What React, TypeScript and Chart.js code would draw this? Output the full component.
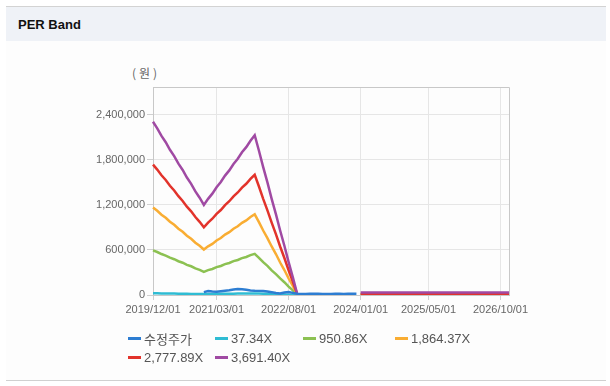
import React, { useEffect, useRef } from "react";
import { Chart, registerables } from "chart.js";
Chart.register(...registerables);

const N = null;

const months = [
  "2019/12/01",
  "2020/01/01", "2020/02/01", "2020/03/01", "2020/04/01", "2020/05/01", "2020/06/01", "2020/07/01", "2020/08/01", "2020/09/01", "2020/10/01", "2020/11/01", "2020/12/01",
  "2021/01/01", "2021/02/01", "2021/03/01", "2021/04/01", "2021/05/01", "2021/06/01", "2021/07/01", "2021/08/01", "2021/09/01", "2021/10/01", "2021/11/01", "2021/12/01",
  "2022/01/01", "2022/02/01", "2022/03/01", "2022/04/01", "2022/05/01", "2022/06/01", "2022/07/01", "2022/08/01", "2022/09/01", "2022/10/01", "2022/11/01", "2022/12/01",
  "2023/01/01", "2023/02/01", "2023/03/01", "2023/04/01", "2023/05/01", "2023/06/01", "2023/07/01", "2023/08/01", "2023/09/01", "2023/10/01", "2023/11/01", "2023/12/01",
  "2024/01/01", "2024/02/01", "2024/03/01", "2024/04/01", "2024/05/01", "2024/06/01", "2024/07/01", "2024/08/01", "2024/09/01", "2024/10/01", "2024/11/01", "2024/12/01",
  "2025/01/01", "2025/02/01", "2025/03/01", "2025/04/01", "2025/05/01", "2025/06/01", "2025/07/01", "2025/08/01", "2025/09/01", "2025/10/01", "2025/11/01", "2025/12/01",
  "2026/01/01", "2026/02/01", "2026/03/01", "2026/04/01", "2026/05/01", "2026/06/01", "2026/07/01", "2026/08/01", "2026/09/01", "2026/10/01", "2026/11/01", "2026/12/01",
];

const xTickLabels = ["2019/12/01", "2021/03/01", "2022/08/01", "2024/01/01", "2025/05/01", "2026/10/01"];
const yTickValues = [0, 600000, 1200000, 1800000, 2400000];

const seriesNames = ["수정주가", "37.34X", "950.86X", "1,864.37X", "2,777.89X", "3,691.40X"];
const seriesColors = ["#2d7dd2", "#2fbcd3", "#8cc152", "#f9ad33", "#e2332b", "#a04aa3"];
const seriesOrder = [0, 5, 4, 3, 2, 1];

const price = [
  N, N, N, N, N, N, N, N, N, N, N, N,
  38000, 52000, 46000, 44000, 50000, 56000, 62000, 72000, 80000, 78000, 70000, 60000,
  56000, 55000, 52000, 48000, 38000, 26000, 20000, 34000, 40000, 28000, 16000,
  15000, 14500, 15000, 15500, 15000, 14500, 14000, 14500, 15000, 15000, 14500, 15000, 15500, 15000,
  N, N, N, N, N, N, N, N, N, N, N, N,
  N, N, N, N, N, N, N, N, N, N, N, N,
  N, N, N, N, N, N, N, N, N, N, N, N,
];

const per37 = [
  23300, 22400, 21500, 20500, 19600, 18700, 17700, 16800, 15900, 14900, 14000, 13100,
  12100, 12900, 13700, 14500, 15300, 16000, 16800, 17600, 18400, 19200, 19900, 20700,
  21500, 19400, 17300, 15100, 13000, 10900, 8700, 6600, 4500, 2300, 200,
  N, N, N, N, N, N, N, N, N, N, N, N, N, N,
  300, 300, 300, 300, 300, 300, 300, 300, 300, 300, 300, 300,
  300, 300, 300, 300, 300, 300, 300, 300, 300, 300, 300, 300,
  300, 300, 300, 300, 300, 300, 300, 300, 300, 300, 300, 300,
];

const per950 = [
  595000, 573000, 546000, 526000, 498000, 477000, 450000, 430000, 402000, 383000, 355000, 334000,
  309000, 331000, 347000, 371000, 387000, 411000, 427000, 451000, 467000, 491000, 507000, 531000,
  549000, 496000, 438000, 388000, 329000, 279000, 221000, 170000, 112000, 62000, 5000,
  N, N, N, N, N, N, N, N, N, N, N, N, N, N,
  4000, 4000, 4000, 4000, 4000, 4000, 4000, 4000, 4000, 4000, 4000, 4000,
  4000, 4000, 4000, 4000, 4000, 4000, 4000, 4000, 4000, 4000, 4000, 4000,
  4000, 4000, 4000, 4000, 4000, 4000, 4000, 4000, 4000, 4000, 4000, 4000,
];

const per1864 = [
  1167000, 1123000, 1070000, 1030000, 977000, 936000, 883000, 843000, 790000, 750000, 697000, 656000,
  606000, 649000, 681000, 727000, 760000, 805000, 838000, 883000, 916000, 962000, 995000, 1040000,
  1076000, 972000, 860000, 759000, 647000, 546000, 433000, 333000, 220000, 120000, 10000,
  N, N, N, N, N, N, N, N, N, N, N, N, N, N,
  8000, 8000, 8000, 8000, 8000, 8000, 8000, 8000, 8000, 8000, 8000, 8000,
  8000, 8000, 8000, 8000, 8000, 8000, 8000, 8000, 8000, 8000, 8000, 8000,
  8000, 8000, 8000, 8000, 8000, 8000, 8000, 8000, 8000, 8000, 8000, 8000,
];

const per2777 = [
  1738000, 1672000, 1596000, 1533000, 1457000, 1394000, 1318000, 1254000, 1178000, 1115000, 1039000, 976000,
  903000, 965000, 1017000, 1081000, 1133000, 1198000, 1250000, 1315000, 1367000, 1431000, 1483000, 1548000,
  1603000, 1447000, 1282000, 1129000, 965000, 812000, 647000, 494000, 330000, 177000, 15000,
  N, N, N, N, N, N, N, N, N, N, N, N, N, N,
  14000, 14000, 14000, 14000, 14000, 14000, 14000, 14000, 14000, 14000, 14000, 14000,
  14000, 14000, 14000, 14000, 14000, 14000, 14000, 14000, 14000, 14000, 14000, 14000,
  14000, 14000, 14000, 14000, 14000, 14000, 14000, 14000, 14000, 14000, 14000, 14000,
];

const per3691 = [
  2310000, 2222000, 2121000, 2037000, 1936000, 1852000, 1751000, 1667000, 1566000, 1482000, 1381000, 1297000,
  1200000, 1282000, 1351000, 1437000, 1506000, 1592000, 1661000, 1747000, 1816000, 1902000, 1971000, 2057000,
  2130000, 1923000, 1704000, 1501000, 1282000, 1079000, 860000, 657000, 438000, 235000, 20000,
  N, N, N, N, N, N, N, N, N, N, N, N, N, N,
  33000, 33000, 33000, 33000, 33000, 33000, 33000, 33000, 33000, 33000, 33000, 33000,
  33000, 33000, 33000, 33000, 33000, 33000, 33000, 33000, 33000, 33000, 33000, 33000,
  33000, 33000, 33000, 33000, 33000, 33000, 33000, 33000, 33000, 33000, 33000, 33000,
];

const seriesData = [price, per37, per950, per1864, per2777, per3691];

const yMax = 2773000;

const FONT = "'Liberation Sans', Arial, 'Noto Sans CJK KR', sans-serif";

export default function App() {
  const ref = useRef<HTMLCanvasElement>(null);

  useEffect(() => {
    if (!ref.current) return;
    const datasets = seriesData.map((d, i) => ({
      label: seriesNames[i],
      data: d,
      order: seriesOrder[i],
      borderColor: seriesColors[i],
      backgroundColor: seriesColors[i],
      borderWidth: 2.5,
      pointRadius: 0,
      pointHoverRadius: 0,
      tension: 0,
      spanGaps: false,
    }));
    const frame = {
      id: "frame",
      afterDatasetsDraw(chart: any) {
        const { ctx, chartArea } = chart;
        const { left, right, top, bottom } = chartArea;
        ctx.save();
        ctx.strokeStyle = "#c8c8c8";
        ctx.lineWidth = 1;
        ctx.beginPath();
        ctx.moveTo(left, Math.round(top) + 0.5);
        ctx.lineTo(Math.round(right) + 0.5, Math.round(top) + 0.5);
        ctx.lineTo(Math.round(right) + 0.5, bottom);
        ctx.stroke();
        ctx.restore();
      },
    };
    const chart = new Chart(ref.current, {
      type: "line",
      data: { labels: months, datasets },
      options: {
        responsive: false,
        animation: false,
        layout: { padding: { left: 0, right: 101, top: 45, bottom: 17 } },
        plugins: { legend: { display: false }, tooltip: { enabled: false } },
        scales: {
          x: {
            type: "category",
            afterBuildTicks(axis: any) {
              axis.ticks = axis.ticks.filter((t: any) => xTickLabels.includes(months[t.value]));
            },
            afterFit(s: any) {
              s.height = 20;
            },
            ticks: {
              autoSkip: false,
              maxRotation: 0,
              minRotation: 0,
              color: "#666",
              font: { size: 11, family: FONT },
              padding: 3,
            },
            grid: { color: "#e6e6e6", tickLength: 5, tickColor: "#d0d0d0" },
            border: { color: "#c8c8c8" },
          },
          y: {
            min: 0,
            max: yMax,
            afterBuildTicks(axis: any) {
              axis.ticks = yTickValues.map((v) => ({ value: v }));
            },
            afterFit(s: any) {
              s.width = 153;
            },
            ticks: {
              color: "#666",
              font: { size: 11, family: FONT },
              padding: 2,
              callback: (v: any) => Number(v).toLocaleString("en-US"),
            },
            grid: { color: "#e6e6e6", tickLength: 6, tickColor: "#d0d0d0" },
            border: { color: "#c8c8c8" },
          },
        },
      },
      plugins: [frame],
    } as any);
    return () => chart.destroy();
  }, []);

  const colWidths = [87, 88, 92, 92];

  return (
    <div
      style={{
        position: "absolute",
        left: 0,
        top: 0,
        width: 610,
        height: 386,
        background: "#ffffff",
        fontFamily: FONT,
        overflow: "hidden",
      }}
    >
      <div style={{ position: "absolute", left: 6, top: 41, width: 600, height: 339, background: "#fdfdfd" }} />
      <div style={{ position: "absolute", left: 6, top: 6, width: 600, height: 1, background: "#d3d3d3" }} />
      <div style={{ position: "absolute", left: 6, top: 7, width: 600, height: 34, background: "#eff2f7" }} />
      <div
        style={{
          position: "absolute",
          left: 18,
          top: 8,
          height: 34,
          lineHeight: "34px",
          fontSize: 13,
          fontWeight: "bold",
          color: "#111",
        }}
      >
        PER Band
      </div>
      <div style={{ position: "absolute", left: 6, top: 380, width: 600, height: 1, background: "#d0d0d0" }} />
      <div
        style={{
          position: "absolute",
          left: 132,
          top: 65,
          lineHeight: "16px",
          fontSize: 12,
          letterSpacing: 3,
          color: "#666",
          fontFamily: "'Noto Sans CJK KR', sans-serif",
          whiteSpace: "nowrap",
        }}
      >
        (원)
      </div>
      <canvas
        ref={ref}
        width={610}
        height={290}
        style={{ position: "absolute", left: 0, top: 42, width: 610, height: 290 }}
      />
      <div
        style={{
          position: "absolute",
          left: 128,
          top: 329,
          display: "grid",
          gridTemplateColumns: colWidths.map((w) => w + "px").join(" "),
          gridAutoRows: "19px",
        }}
      >
        {seriesNames.map((name, i) => (
          <div key={name} style={{ display: "flex", alignItems: "center", whiteSpace: "nowrap" }}>
            <span
              style={{
                display: "inline-block",
                width: 13,
                height: 3,
                background: seriesColors[i],
                marginRight: 3,
              }}
            />
            <span style={{ fontSize: 13, color: "#555", fontFamily: FONT }}>{name}</span>
          </div>
        ))}
      </div>
    </div>
  );
}
